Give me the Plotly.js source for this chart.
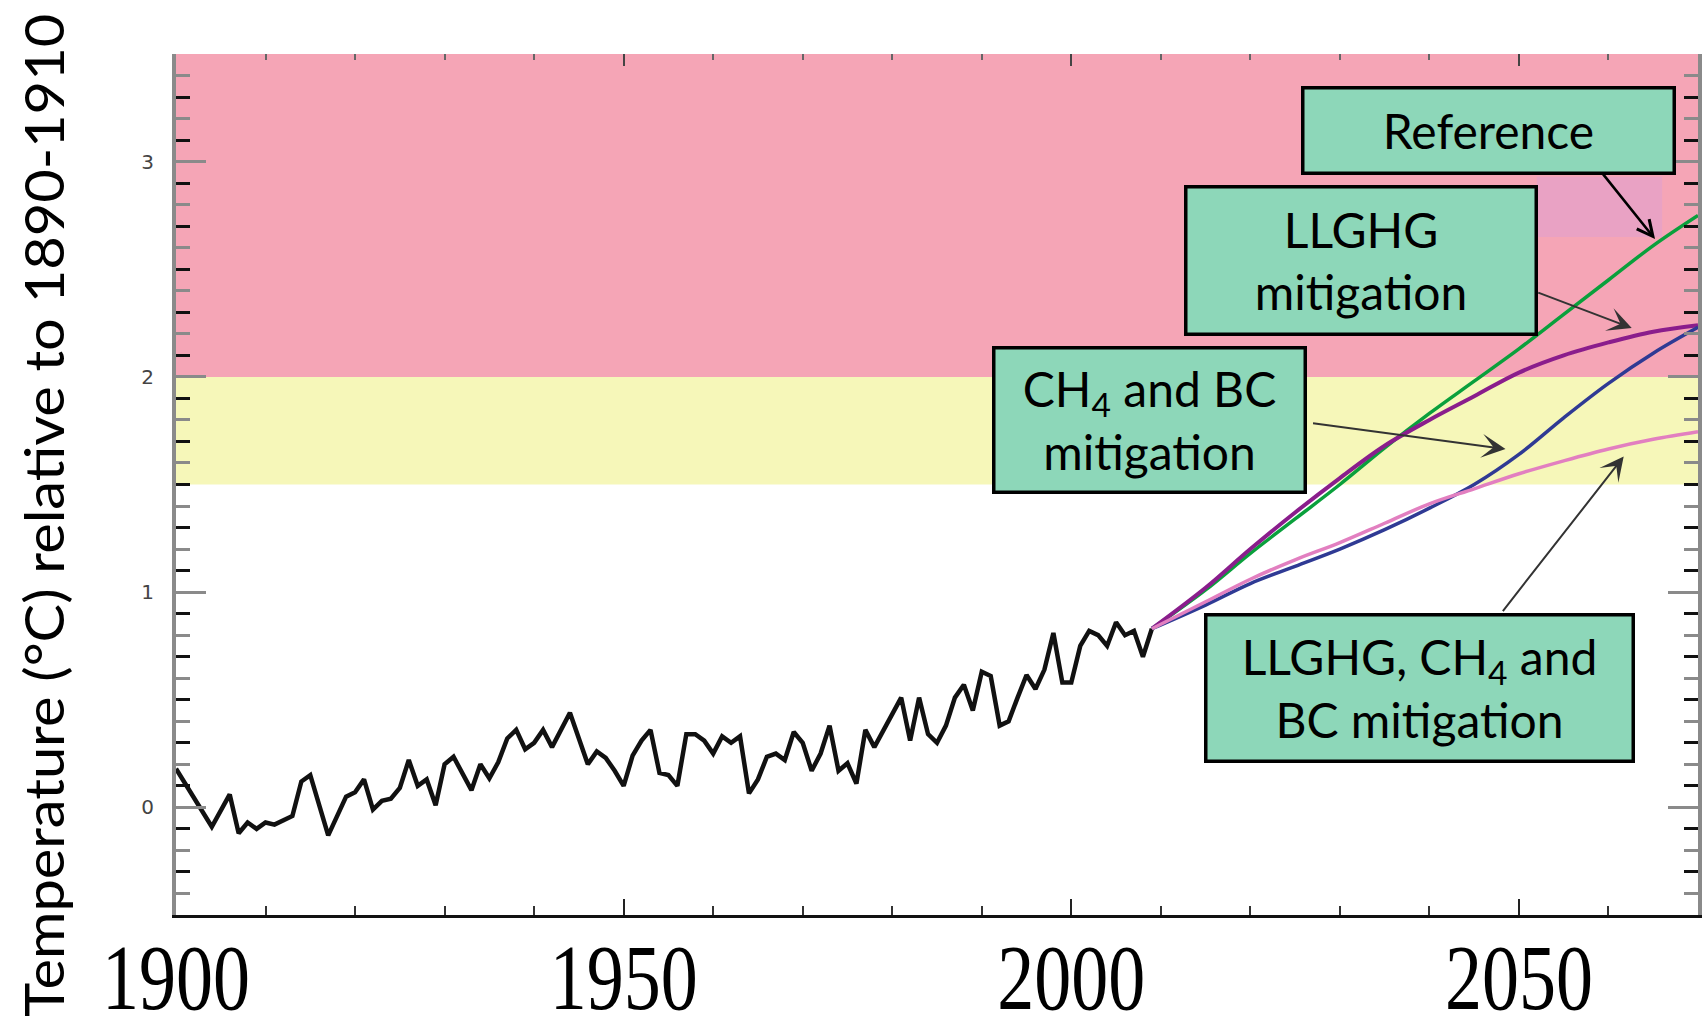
<!DOCTYPE html>
<html>
<head>
<meta charset="utf-8">
<script src="https://cdn.plot.ly/plotly-3.0.1.min.js"></script>
<style>
html,body{margin:0;padding:0;background:#fff;}
#chart{width:1704px;height:1021px;}
</style>
</head>
<body>
<div id="chart"></div>
<script>
// ---- observed annual temperature anomaly (°C relative to 1890-1910) ----
const obsYears = [1900,1904,1906,1907,1908,1909,1910,1911,1913,1914,1915,1917,1919,1920,1921,1922,1923,1924,1925,1926,1927,1928,1929,1930,1931,1933,1934,1935,1936,1937,1938,1939,1940,1941,1942,1943,1944,1946,1947,1948,1949,1950,1951,1952,1953,1954,1955,1956,1957,1958,1959,1960,1961,1962,1963,1964,1965,1966,1967,1968,1969,1970,1971,1972,1973,1974,1975,1976,1977,1978,1979,1980,1981,1982,1983,1984,1985,1986,1987,1988,1989,1990,1991,1992,1993,1994,1995,1996,1997,1998,1999,2000,2001,2002,2003,2004,2005,2006,2007,2008,2009];
const obsTemp  = [0.18,-0.09,0.06,-0.12,-0.07,-0.10,-0.07,-0.08,-0.04,0.12,0.15,-0.13,0.05,0.07,0.13,-0.01,0.03,0.04,0.09,0.22,0.10,0.13,0.01,0.20,0.235,0.08,0.20,0.135,0.21,0.32,0.36,0.27,0.30,0.36,0.28,0.36,0.44,0.20,0.26,0.23,0.17,0.10,0.24,0.31,0.36,0.16,0.15,0.10,0.34,0.34,0.31,0.25,0.33,0.30,0.33,0.065,0.13,0.235,0.25,0.22,0.35,0.30,0.17,0.25,0.38,0.17,0.205,0.11,0.36,0.28,0.36,0.44,0.51,0.31,0.51,0.34,0.30,0.38,0.51,0.57,0.45,0.63,0.61,0.38,0.40,0.51,0.615,0.55,0.64,0.81,0.58,0.58,0.75,0.82,0.80,0.75,0.86,0.80,0.82,0.70,0.83];

// ---- projections ----
const projYears   = [2009,2015,2020,2025,2030,2035,2040,2045,2050,2055,2060,2065,2070];
const refTemp     = [0.83,1.01,1.18,1.34,1.50,1.67,1.83,1.98,2.13,2.29,2.45,2.61,2.75];
const llghgTemp   = [0.83,1.02,1.20,1.37,1.53,1.68,1.80,1.91,2.02,2.10,2.16,2.21,2.24];
const ch4bcTemp   = [0.83,0.94,1.04,1.12,1.20,1.29,1.39,1.50,1.64,1.81,1.97,2.11,2.23];
const allMitTemp  = [0.83,0.955,1.06,1.15,1.23,1.32,1.41,1.48,1.55,1.61,1.665,1.71,1.745];

// ---- bands / axes ----
const dangerBand  = [2.0, 3.5];
const cautionBand = [1.5, 2.0];
const xRange = [1900, 2070];
const yRange = [-0.5, 3.5];
const xTickVals = [1900, 1950, 2000, 2050];
const yTickVals = [0, 1, 2, 3];
const yTickText = ['0', '1', '2', '3'];

// ---- labels ----
const yTitle = 'Temperature (°C) relative to 1890-1910';
const boxRef   = 'Reference';
const boxLL    = 'LLGHG<br>mitigation';
const boxCH4   = 'CH<sub>4</sub> and BC<br>mitigation';
const boxAll   = 'LLGHG, CH<sub>4</sub> and<br>BC mitigation';

// minor tick positions (style only)
const oddTenths = [], evenTenths = [];
for (let i = -5; i <= 35; i++) {
  const v = i / 10;
  if (Math.abs(i) % 2 === 1) oddTenths.push(v);
  else if (i % 10 !== 0) evenTenths.push(v);
}

const traces = [
  {x: obsYears, y: obsTemp, mode: 'lines', line: {color: '#111111', width: 4.5}, hoverinfo: 'skip'},
  {x: projYears, y: refTemp, mode: 'lines', line: {color: '#0aa03c', width: 3.5, shape: 'spline'}, hoverinfo: 'skip'},
  {x: projYears, y: llghgTemp, mode: 'lines', line: {color: '#8a1d8c', width: 4, shape: 'spline'}, hoverinfo: 'skip'},
  {x: projYears, y: ch4bcTemp, mode: 'lines', line: {color: '#2f3a94', width: 3.5, shape: 'spline'}, hoverinfo: 'skip'},
  {x: projYears, y: allMitTemp, mode: 'lines', line: {color: '#e27fc0', width: 3.5, shape: 'spline'}, hoverinfo: 'skip'},
  {x: [], y: [], yaxis: 'y2', mode: 'lines', hoverinfo: 'skip', showlegend: false},
  {x: [], y: [], xaxis: 'x2', mode: 'lines', hoverinfo: 'skip', showlegend: false}
];

const L = 176, R = 1698, T = 54, B = 915;
const PW = R - L, PH = B - T;
const px = v => (v - L) / PW;
const py = v => (B - v) / PH;

const boxFont = {family: 'Lato, "Open Sans", sans-serif', size: 48, color: '#000'};
const BW = 3.5;
function box(text, x0, x1, y0, y1) {
  return {
    xref: 'paper', yref: 'paper',
    x: px((x0 + x1) / 2), y: py((y0 + y1) / 2),
    xanchor: 'center', yanchor: 'middle',
    text: text, showarrow: false,
    font: boxFont, align: 'center', valign: 'middle',
    bgcolor: '#8dd7b9', bordercolor: '#000', borderwidth: BW, borderpad: 0,
    width: (x1 - x0) - 2 * BW, height: (y1 - y0) - 2 * BW
  };
}
function arrow(xv, yv, ax, ay, head, w, size, col) {
  return {
    x: xv, y: yv, xref: 'x', yref: 'y', text: '', showarrow: true,
    ax: ax, ay: ay, axref: 'pixel', ayref: 'pixel',
    arrowhead: head, arrowwidth: w, arrowsize: size, arrowcolor: col, standoff: 0
  };
}

const annotations = [
  arrow(2065.2, 2.64, -56, -70, 5, 2.6, 1.2, '#000'),
  arrow(2062.6, 2.227, -95, -36, 3, 2, 2, '#333'),
  arrow(2048.5, 1.665, -194, -26, 3, 2, 2, '#333'),
  arrow(2061.7, 1.63, -122, 156, 3, 2, 2, '#333'),
  box(boxRef, 1301, 1676, 86, 175),
  box(boxLL, 1184, 1538, 185, 336),
  box(boxCH4, 992, 1307, 346, 494),
  box(boxAll, 1204, 1635, 613, 763),
  {
    xref: 'paper', yref: 'paper', x: px(43), y: py(516),
    xanchor: 'center', yanchor: 'middle', textangle: -90, showarrow: false,
    text: yTitle, font: {family: 'Lato, "Open Sans", sans-serif', size: 54, color: '#000'}
  }
];

const shapes = [
  {type: 'rect', xref: 'paper', yref: 'y', x0: 0, x1: 1, y0: dangerBand[0], y1: dangerBand[1],
   fillcolor: '#f5a5b6', line: {width: 0}, layer: 'below'},
  {type: 'rect', xref: 'paper', yref: 'y', x0: 0, x1: 1, y0: cautionBand[0], y1: cautionBand[1],
   fillcolor: '#f6f7b9', line: {width: 0}, layer: 'below'},
  {type: 'rect', xref: 'x', yref: 'y', x0: 2052, x1: 2066, y0: 2.65, y1: 2.93,
   fillcolor: '#e9a2c4', line: {width: 0}, layer: 'below'}
];

const layout = {
  width: 1704, height: 1021,
  margin: {l: L, r: 1704 - R, t: T, b: 1021 - B, pad: 0},
  paper_bgcolor: '#ffffff', plot_bgcolor: '#ffffff',
  showlegend: false,
  xaxis: {
    range: xRange, tickmode: 'array', tickvals: xTickVals,
    ticks: 'inside', ticklen: 16, tickwidth: 2, tickcolor: '#222',
    showline: true, linecolor: '#111', linewidth: 3, mirror: false,
    showgrid: false, zeroline: false,
    tickfont: {family: '"Liberation Serif", "Times New Roman", serif', size: 74, color: '#000'},
    ticklabelstandoff: -5,
    minor: {tick0: 1900, dtick: 10, ticks: 'inside', ticklen: 9, tickwidth: 2, tickcolor: '#333', showgrid: false}
  },
  xaxis2: {
    range: xRange, overlaying: 'x', side: 'top', tickmode: 'array', tickvals: xTickVals,
    ticks: 'inside', ticklen: 12, tickwidth: 2, tickcolor: '#444',
    showticklabels: false, showline: false, showgrid: false, zeroline: false,
    minor: {tick0: 1900, dtick: 10, ticks: 'inside', ticklen: 6, tickwidth: 2, tickcolor: '#666', showgrid: false}
  },
  yaxis: {
    range: yRange, tickmode: 'array', tickvals: yTickVals, ticktext: yTickText,
    ticks: 'inside', ticklen: 30, tickwidth: 3, tickcolor: '#8a8a8a',
    showline: true, linecolor: '#8a8a8a', linewidth: 4, mirror: 'ticks',
    showgrid: false, zeroline: false,
    tickfont: {family: '"DejaVu Sans", sans-serif', size: 20, color: '#444'},
    ticklabelstandoff: 14,
    minor: {tickmode: 'array', tickvals: oddTenths, ticks: 'inside', ticklen: 14, tickwidth: 3, tickcolor: '#111', showgrid: false}
  },
  yaxis2: {
    range: yRange, overlaying: 'y', side: 'left', tickmode: 'array', tickvals: evenTenths,
    ticks: 'inside', ticklen: 14, tickwidth: 3, tickcolor: '#8a8a8a',
    showticklabels: false, showline: false, mirror: 'ticks', showgrid: false, zeroline: false
  },
  shapes: shapes,
  annotations: annotations
};

function stretch(el, sx, sy) {
  const bb = el.getBBox();
  const cx = bb.x + bb.width / 2, cy = bb.y + bb.height / 2;
  const old = el.getAttribute('transform') || '';
  el.setAttribute('transform', old + ' translate(' + cx + ',' + cy + ') scale(' + sx + ',' + sy + ') translate(' + (-cx) + ',' + (-cy) + ')');
}

Plotly.newPlot('chart', traces, layout, {staticPlot: true, displayModeBar: false}).then(function (gd) {
  gd.querySelectorAll('.xaxislayer-above .xtick text').forEach(function (t) { stretch(t, 1, 1.27); });
  gd.querySelectorAll('text.annotation-text').forEach(function (t) {
    if (t.textContent.indexOf('Temperature') === 0) stretch(t, 1.07, 1);
  });
});
</script>
</body>
</html>
